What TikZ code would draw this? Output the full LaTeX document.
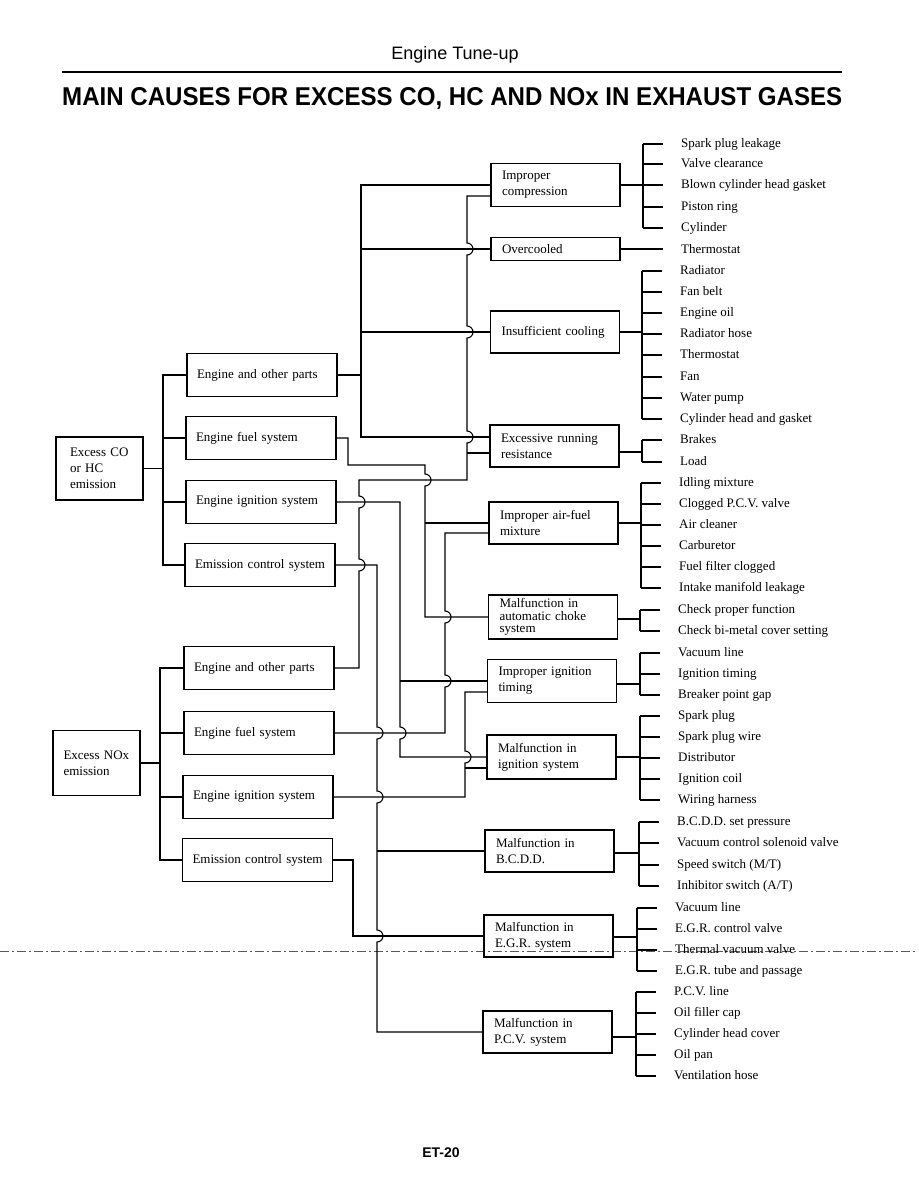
\documentclass[tikz,border=0pt]{standalone}
\usepackage{fontspec}
\usepackage{graphicx}
\setmainfont{Liberation Serif}
\newfontfamily\sansf{Liberation Sans}
\newcommand\boxfont{\fontsize{13}{16}\selectfont}
\newcommand\itemfont{\fontsize{13}{15}\selectfont}
\tikzset{
  box/.style={draw, line width=1.2pt, align=left, inner xsep=10pt, inner ysep=0pt, font=\boxfont},
  cbox/.style={box, inner xsep=11pt, text width=107pt},
  abox/.style={box, inner xsep=10pt, text width=130pt, minimum height=43pt},
  item/.style={anchor=west, inner sep=0pt, text height=9pt, text depth=2pt, font=\itemfont},
  wire/.style={line width=1.1pt},
}
\newcommand\citem[4]{\node[item] (#1) at ({#2+38},#3) {#4}; \draw[wire] (#2,#3) -- ([xshift=-18pt]#1.west);}
\begin{document}
\begin{tikzpicture}[x=1pt,y=-1pt]
\useasboundingbox (0,0) rectangle (918,1188);
% header
\node[font=\sansf\fontsize{18}{20}\selectfont, anchor=base, inner sep=0] (hdr) at (455,60) {Engine Tune-up};
\draw[line width=2pt] (62,72) -- (842,72);
\node[anchor=base west, inner sep=0] (title) at (62,106) {\resizebox{780pt}{18pt}{\sansf\bfseries MAIN CAUSES FOR EXCESS CO, HC AND NOx IN EXHAUST GASES}};
\node[font=\sansf\bfseries\fontsize{14}{16}\selectfont, anchor=base, inner sep=0] (foot) at (441,1157) {ET-20};
% fold line
\draw[line width=0.5pt, black!65, dash pattern=on 9pt off 3pt on 2pt off 3pt] (0,951) -- (918,951);

% roots
\node[box, inner xsep=14pt, text width=59pt, minimum height=63pt] (R1) at (99.5,468.5) {Excess CO\\or HC\\emission};
\node[box, inner xsep=10.5pt, text width=66pt, minimum height=65pt] (R2) at (96.5,763) {Excess NOx\\emission};

% level 1
\node[abox] (A1) at (262,375) {Engine and other parts};
\node[abox] (A2) at (261,438) {Engine fuel system};
\node[abox] (A3) at (261,502) {Engine ignition system};
\node[abox] (A4) at (260,565) {Emission control system};
\node[abox] (B1) at (259,668) {Engine and other parts};
\node[abox] (B2) at (259,733) {Engine fuel system};
\node[abox] (B3) at (258,797) {Engine ignition system};
\node[abox] (B4) at (257.5,860) {Emission control system};

% level 2
\node[cbox, minimum height=43pt] (C1) at (555.5,185) {Improper\\compression};
\node[cbox, minimum height=23pt] (C2) at (555.5,249) {Overcooled};
\node[cbox, minimum height=42pt] (C3) at (555,332) {Insufficient cooling};
\node[cbox, minimum height=42pt] (C4) at (554.5,446) {Excessive running\\resistance};
\node[cbox, minimum height=42pt] (C5) at (553.5,523) {Improper air-fuel\\mixture};
\node[cbox, minimum height=44pt, font=\fontsize{13}{12.5}\selectfont] (C6) at (553,617) {Malfunction in\\automatic choke\\system};
\node[cbox, minimum height=43pt] (C7) at (552,681) {Improper ignition\\timing};
\node[cbox, minimum height=44pt] (C8) at (551.5,757) {Malfunction in\\ignition system};
\node[cbox, minimum height=42pt] (C9) at (549.5,851) {Malfunction in\\B.C.D.D.};
\node[cbox, minimum height=42pt] (C10) at (548.5,936) {Malfunction in\\E.G.R. system};
\node[cbox, minimum height=42pt] (C11) at (547.5,1032) {Malfunction in\\P.C.V. system};

% left buses
\coordinate (cobus) at (163,0);
\coordinate (noxbus) at (160,0);
\draw[wire] (R1.east) -- (R1.east -| cobus);
\draw[wire] (A1.west) -| (cobus |- A4.west) -- (A4.west);
\draw[wire] (A2.west) -- (A2.west -| cobus);
\draw[wire] (A3.west) -- (A3.west -| cobus);
\draw[wire] (R2.east) -- (R2.east -| noxbus);
\draw[wire] (B1.west) -| (noxbus |- B4.west) -- (B4.west);
\draw[wire] (B2.west) -- (B2.west -| noxbus);
\draw[wire] (B3.west) -- (B3.west -| noxbus);

% A1 -> C1..C4
\coordinate (busA) at (361,0);
\draw[wire] (A1.east) -- (A1.east -| busA);
\draw[wire] (C1.west) -| (361,437) -- ([yshift=9pt]C4.west);
\draw[wire] (C2.west) -- (C2.west -| busA);
\draw[wire] (C3.west) -- (C3.west -| busA);

% B1 -> C1, C4
\draw[wire] (B1.east) -- (359,668) -- (359,571) arc[start angle=-90,end angle=90,radius=6pt]
  -- (359,508) arc[start angle=-90,end angle=90,radius=6pt]
  -- (359,480) -- (467,480) -- (467,443) arc[start angle=-90,end angle=90,radius=6pt]
  -- (467,338) arc[start angle=-90,end angle=90,radius=6pt]
  -- (467,255) arc[start angle=-90,end angle=90,radius=6pt]
  -- (467,196) -- ([yshift=-11pt]C1.west);
\draw[wire] (467,453) -- ([yshift=-7pt]C4.west);

% A2 -> C5, C6
\draw[wire] (A2.east) -- (348,438) -- (348,465) -- (425,465) -- (425,474) arc[start angle=90,end angle=-90,radius=6pt]
  -- (425,617) -- (C6.west);
\draw[wire] (425,523) -- (C5.west);

% B2 -> C5
\draw[wire] (B2.east) -- (445,733) -- (445,687) arc[start angle=-90,end angle=90,radius=6pt]
  -- (445,623) arc[start angle=-90,end angle=90,radius=6pt]
  -- (445,533) -- ([yshift=-10pt]C5.west);

% A3 -> C7, C8
\draw[wire] (A3.east) -- (400,502) -- (400,727) arc[start angle=90,end angle=-90,radius=6pt]
  -- (400,757) -- (C8.west);
\draw[wire] (400,681) -- (C7.west);

% B3 -> C7, C8
\draw[wire] (B3.east) -- (465,797) -- (465,763) arc[start angle=-90,end angle=90,radius=6pt]
  -- (465,692) -- ([yshift=-11pt]C7.west);
\draw[wire] (465,768) -- ([yshift=-11pt]C8.west);

% A4 -> C9, C11
\draw[wire] (A4.east) -- (377,565) -- (377,727) arc[start angle=90,end angle=-90,radius=6pt]
  -- (377,791) arc[start angle=90,end angle=-90,radius=6pt]
  -- (377,930) arc[start angle=90,end angle=-90,radius=6pt]
  -- (377,1032) -- (C11.west);
\draw[wire] (377,851) -- (C9.west);

% B4 -> C10
\draw[wire] (B4.east) -- (353,860) -- (353,936) -- (C10.west);

% right side
\draw[wire] (C1.east) -- (643,185);
\draw[wire] (643,144) -- (643,228);
\citem{c1a}{643}{144}{Spark plug leakage}
\citem{c1b}{643}{164}{Valve clearance}
\citem{c1c}{643}{185}{Blown cylinder head gasket}
\citem{c1d}{643}{207}{Piston ring}
\citem{c1e}{643}{228}{Cylinder}

\node[item] (c2a) at (681,250) {Thermostat};
\draw[wire] (C2.east) -- ([xshift=-18pt]c2a.west |- C2.east);

\draw[wire] (C3.east) -- (642,332);
\draw[wire] (642,271) -- (642,419);
\citem{c3a}{642}{271}{Radiator}
\citem{c3b}{642}{292}{Fan belt}
\citem{c3c}{642}{313}{Engine oil}
\citem{c3d}{642}{334}{Radiator hose}
\citem{c3e}{642}{355}{Thermostat}
\citem{c3f}{642}{377}{Fan}
\citem{c3g}{642}{398}{Water pump}
\citem{c3h}{642}{419}{Cylinder head and gasket}

\draw[wire] ([yshift=-6pt]C4.east) -- (642,452);
\draw[wire] (642,440) -- (642,462);
\citem{c4a}{642}{440}{Brakes}
\citem{c4b}{642}{462}{Load}

\draw[wire] (C5.east) -- (641,523);
\draw[wire] (641,483) -- (641,588);
\citem{c5a}{641}{483}{Idling mixture}
\citem{c5b}{641}{504}{Clogged P.C.V. valve}
\citem{c5c}{641}{525}{Air cleaner}
\citem{c5d}{641}{546}{Carburetor}
\citem{c5e}{641}{567}{Fuel filter clogged}
\citem{c5f}{641}{588}{Intake manifold leakage}

\draw[wire] ([yshift=-2pt]C6.east) -- (640,619);
\draw[wire] (640,610) -- (640,631);
\citem{c6a}{640}{610}{Check proper function}
\citem{c6b}{640}{631}{Check bi-metal cover setting}

\draw[wire] ([yshift=-3pt]C7.east) -- (640,684);
\draw[wire] (640,653) -- (640,695);
\citem{c7a}{640}{653}{Vacuum line}
\citem{c7b}{640}{674}{Ignition timing}
\citem{c7c}{640}{695}{Breaker point gap}

\draw[wire] (C8.east) -- (640,757);
\draw[wire] (640,716) -- (640,800);
\citem{c8a}{640}{716}{Spark plug}
\citem{c8b}{640}{737}{Spark plug wire}
\citem{c8c}{640}{758}{Distributor}
\citem{c8d}{640}{779}{Ignition coil}
\citem{c8e}{640}{800}{Wiring harness}

\draw[wire] ([yshift=-2pt]C9.east) -- (639,853);
\draw[wire] (639,822) -- (639,886);
\citem{c9a}{639}{822}{B.C.D.D. set pressure}
\citem{c9b}{639}{843}{Vacuum control solenoid valve}
\citem{c9c}{639}{865}{Speed switch (M/T)}
\citem{c9d}{639}{886}{Inhibitor switch (A/T)}

\draw[wire] ([yshift=-1pt]C10.east) -- (637,937);
\draw[wire] (637,908) -- (637,971);
\citem{c10a}{637}{908}{Vacuum line}
\citem{c10b}{637}{929}{E.G.R. control valve}
\citem{c10c}{637}{950}{Thermal vacuum valve}
\citem{c10d}{637}{971}{E.G.R. tube and passage}

\draw[wire] ([yshift=-5pt]C11.east) -- (636,1037);
\draw[wire] (636,992) -- (636,1076);
\citem{c11a}{636}{992}{P.C.V. line}
\citem{c11b}{636}{1013}{Oil filler cap}
\citem{c11c}{636}{1034}{Cylinder head cover}
\citem{c11d}{636}{1055}{Oil pan}
\citem{c11e}{636}{1076}{Ventilation hose}
\end{tikzpicture}
\end{document}
